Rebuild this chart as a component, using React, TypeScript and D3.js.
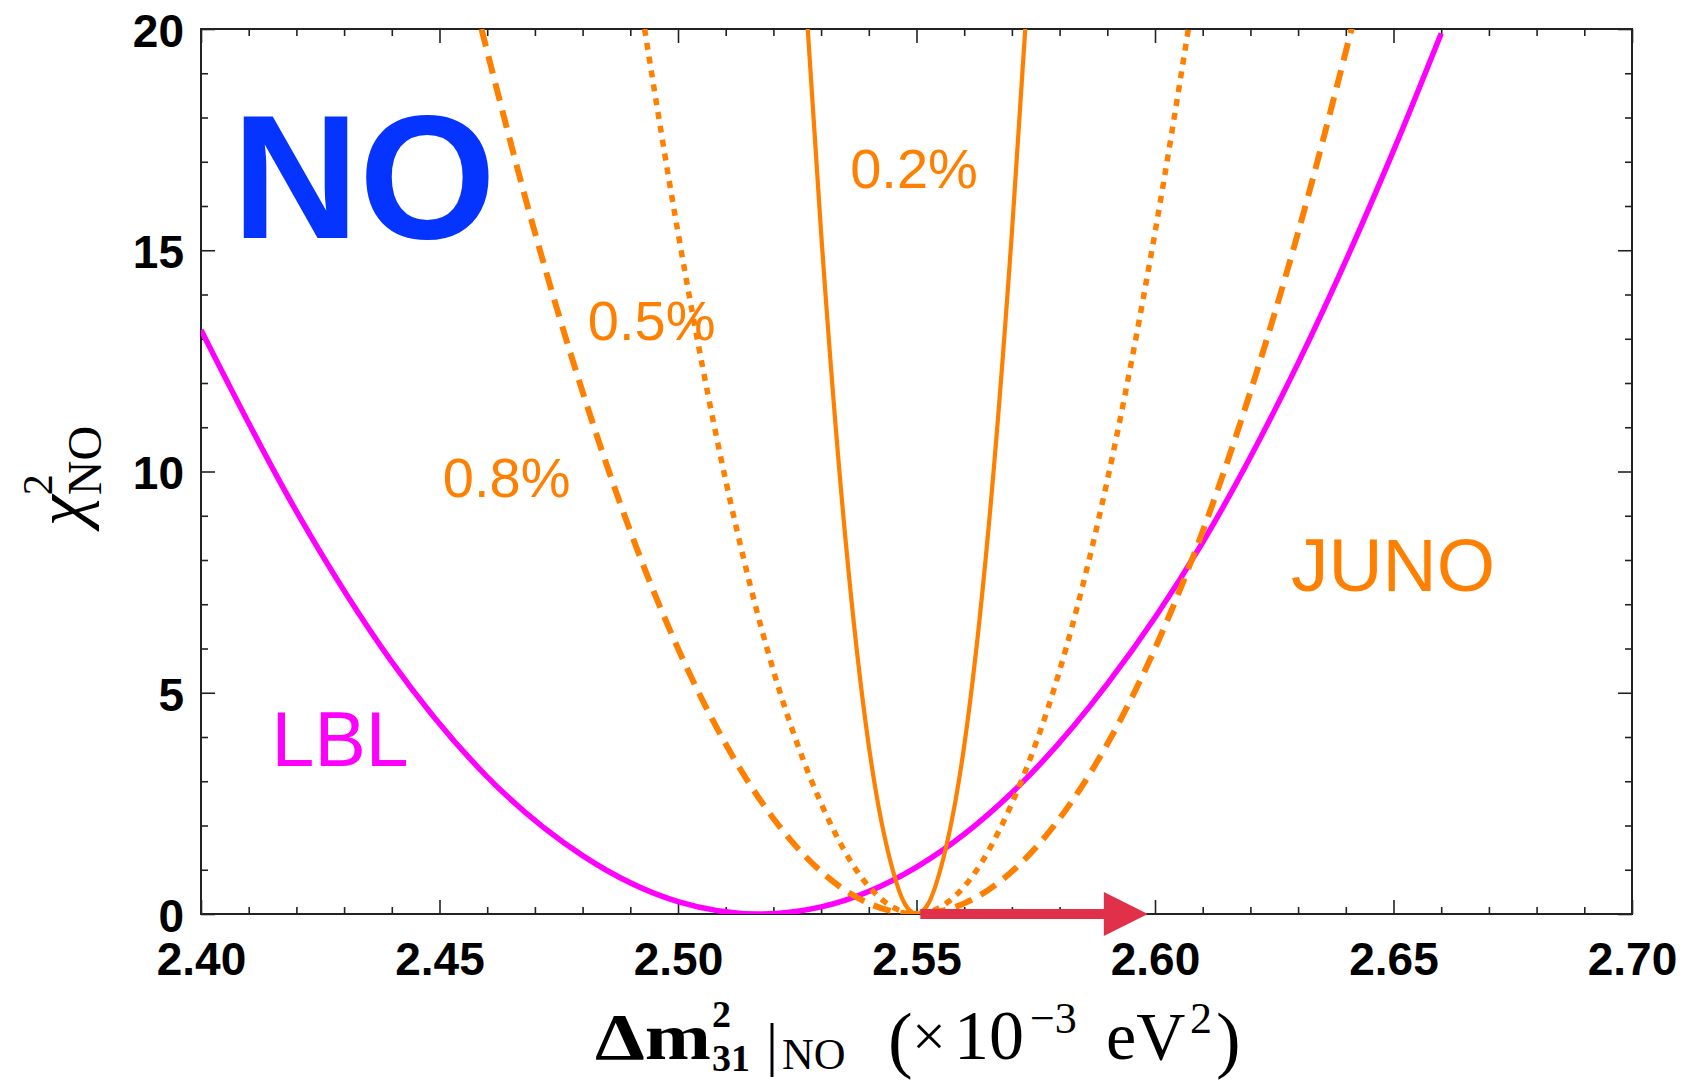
import React, { useEffect, useRef } from 'react';
import * as d3 from 'd3';

// axis ticks
const xMajorTicks = [2.40, 2.45, 2.50, 2.55, 2.60, 2.65, 2.70];
const yMajorTicks = [0, 5, 10, 15, 20];

// LBL chi^2 curve (magenta)
const lblCurve = [
    [2.400, 13.2], [2.420, 9.1], [2.440, 5.7], [2.460, 3.1], [2.480, 1.32],
    [2.500, 0.28], [2.517, 0.0], [2.530, 0.16], [2.550, 1.06], [2.570, 2.74],
    [2.590, 5.2], [2.610, 8.4], [2.630, 12.45], [2.650, 17.25], [2.660, 19.9],
];

// JUNO curves for 0.2% (solid), 0.5% (dotted), 0.8% (dashed) precision
const juno02 = [
    [2.5272, 20.0], [2.530, 15.4], [2.535, 8.6], [2.540, 3.8], [2.545, 1.0],
    [2.5475, 0.24], [2.550, 0.0], [2.5525, 0.24], [2.555, 1.0], [2.560, 3.8],
    [2.565, 8.6], [2.570, 15.4], [2.5728, 20.0],
];
const juno05 = [
    [2.493, 20.0], [2.500, 15.4], [2.510, 9.8], [2.520, 5.5], [2.530, 2.5],
    [2.540, 0.62], [2.550, 0.0], [2.560, 0.62], [2.570, 2.5], [2.580, 5.5],
    [2.590, 9.8], [2.600, 15.4], [2.607, 20.0],
];
const juno08 = [
    [2.4588, 20.0], [2.470, 15.4], [2.480, 11.8], [2.490, 8.65], [2.500, 6.0],
    [2.510, 3.84], [2.520, 2.16], [2.530, 0.96], [2.540, 0.24], [2.550, 0.0],
    [2.560, 0.24], [2.570, 0.96], [2.580, 2.16], [2.590, 3.84], [2.600, 6.0],
    [2.610, 8.65], [2.620, 11.8], [2.630, 15.4], [2.6412, 20.0],
];

// shift arrow along the x axis
const arrowFrom = 2.5508;
const arrowTo = 2.5985;

const ORANGE = '#ff8000';
const MAGENTA = '#ff00ff';

const W = 1692, H = 1082;
const plot = { left: 201, right: 1632, top: 29, bottom: 914 };

export default function App() {
    const svgRef = useRef(null);

    useEffect(() => {
        const svg = d3.select(svgRef.current);
        svg.selectAll('*').remove();

        const x = d3.scaleLinear().domain([2.40, 2.70]).range([plot.left, plot.right]);
        const y = d3.scaleLinear().domain([0, 20]).range([plot.bottom, plot.top]);

        const xMinor = d3.range(0, 31).map(i => 2.40 + i * 0.01).filter(v => !xMajorTicks.some(t => Math.abs(t - v) < 1e-6));
        const yMinor = d3.range(0, 21).filter(v => !yMajorTicks.includes(v));

        svg.append('defs').append('clipPath').attr('id', 'plotClip')
            .append('rect')
            .attr('x', plot.left).attr('y', plot.top)
            .attr('width', plot.right - plot.left).attr('height', plot.bottom - plot.top);

        const tickStyle = (g) => {
            g.select('.domain').remove();
            g.selectAll('line').attr('stroke', '#222').attr('stroke-width', 1.6);
            g.selectAll('text')
                .attr('fill', '#000')
                .style('font-family', '"Liberation Sans", Arial, sans-serif')
                .style('font-weight', 'bold')
                .style('font-size', '46px');
        };

        // bottom
        svg.append('g').attr('transform', `translate(0,${plot.bottom})`)
            .call(d3.axisBottom(x).tickValues(xMajorTicks).tickSize(-14).tickSizeOuter(0)
                .tickPadding(28).tickFormat(d3.format('.2f')))
            .call(tickStyle);
        svg.append('g').attr('transform', `translate(0,${plot.bottom})`)
            .call(d3.axisBottom(x).tickValues(xMinor).tickSize(-7).tickSizeOuter(0).tickFormat(() => ''))
            .call(tickStyle);
        // top
        svg.append('g').attr('transform', `translate(0,${plot.top})`)
            .call(d3.axisTop(x).tickValues(xMajorTicks).tickSize(-14).tickSizeOuter(0).tickFormat(() => ''))
            .call(tickStyle);
        svg.append('g').attr('transform', `translate(0,${plot.top})`)
            .call(d3.axisTop(x).tickValues(xMinor).tickSize(-7).tickSizeOuter(0).tickFormat(() => ''))
            .call(tickStyle);
        // left
        svg.append('g').attr('transform', `translate(${plot.left},0)`)
            .call(d3.axisLeft(y).tickValues(yMajorTicks).tickSize(-14).tickSizeOuter(0)
                .tickPadding(17).tickFormat(d3.format('d')))
            .call(tickStyle)
            .selectAll('text').attr('dy', '0.38em');
        svg.append('g').attr('transform', `translate(${plot.left},0)`)
            .call(d3.axisLeft(y).tickValues(yMinor).tickSize(-7).tickSizeOuter(0).tickFormat(() => ''))
            .call(tickStyle);
        // right
        svg.append('g').attr('transform', `translate(${plot.right},0)`)
            .call(d3.axisRight(y).tickValues(yMajorTicks).tickSize(-14).tickSizeOuter(0).tickFormat(() => ''))
            .call(tickStyle);
        svg.append('g').attr('transform', `translate(${plot.right},0)`)
            .call(d3.axisRight(y).tickValues(yMinor).tickSize(-7).tickSizeOuter(0).tickFormat(() => ''))
            .call(tickStyle);

        // frame
        svg.append('rect')
            .attr('x', plot.left).attr('y', plot.top)
            .attr('width', plot.right - plot.left).attr('height', plot.bottom - plot.top)
            .attr('fill', 'none').attr('stroke', '#222').attr('stroke-width', 2);

        const line = d3.line()
            .x(d => x(d[0]))
            .y(d => y(d[1]))
            .curve(d3.curveMonotoneX);

        const curves = svg.append('g').attr('clip-path', 'url(#plotClip)');

        curves.append('path').datum(lblCurve)
            .attr('d', line).attr('fill', 'none')
            .attr('stroke', MAGENTA).attr('stroke-width', 5.5);

        curves.append('path').datum(juno08)
            .attr('d', line).attr('fill', 'none')
            .attr('stroke', ORANGE).attr('stroke-width', 6)
            .attr('stroke-dasharray', '18 10');

        curves.append('path').datum(juno05)
            .attr('d', line).attr('fill', 'none')
            .attr('stroke', ORANGE).attr('stroke-width', 5.5)
            .attr('stroke-dasharray', '7 7');

        curves.append('path').datum(juno02)
            .attr('d', line).attr('fill', 'none')
            .attr('stroke', ORANGE).attr('stroke-width', 4.2);

        // arrow
        const ax0 = x(arrowFrom), ax1 = x(arrowTo), ay = y(0);
        const headLen = 44, headHalf = 22, shaftHalf = 5;
        svg.append('path')
            .attr('d', `M${ax0},${ay - shaftHalf} L${ax1 - headLen},${ay - shaftHalf} L${ax1 - headLen},${ay - headHalf}
                L${ax1},${ay} L${ax1 - headLen},${ay + headHalf} L${ax1 - headLen},${ay + shaftHalf}
                L${ax0},${ay + shaftHalf} Z`)
            .attr('fill', '#e0304a');

        // annotations
        const sans = '"Liberation Sans", Arial, sans-serif';
        const note = (txt, xv, yv, size, color, weight = 'normal') => {
            svg.append('text')
                .attr('x', x(xv)).attr('y', y(yv))
                .attr('fill', color)
                .style('font-family', sans)
                .style('font-size', `${size}px`)
                .style('font-weight', weight)
                .text(txt);
        };
        note('NO', 2.4065, 15.28, 176, '#0533ff', 'bold');
        note('0.2%', 2.5361, 16.41, 56, ORANGE);
        note('0.5%', 2.4811, 12.97, 56, ORANGE);
        note('0.8%', 2.4507, 9.42, 56, ORANGE);
        note('JUNO', 2.6285, 7.30, 75, ORANGE);
        note('LBL', 2.4148, 3.34, 77, MAGENTA);

        // x-axis title
        const serif = '"Liberation Serif", "Times New Roman", serif';
        const xt = svg.append('text').style('font-family', serif).attr('fill', '#000');
        const part = (sel, txt, px, py, size, weight = 'normal') => sel.append('tspan')
            .attr('x', px).attr('y', py).style('font-size', `${size}px`).style('font-weight', weight).text(txt);
        part(xt, 'Δm', 595, 1059, 66, 'bold').attr('textLength', 116).attr('lengthAdjust', 'spacingAndGlyphs');
        part(xt, '2', 712, 1027, 38, 'bold');
        part(xt, '31', 712, 1071, 38, 'bold');
        part(xt, '|', 766, 1064, 60);
        part(xt, 'NO', 782, 1069, 44);
        part(xt, '(', 888, 1064, 74);
        part(xt, '×', 912, 1056, 60);
        part(xt, '10', 954, 1059, 70);
        part(xt, '−3', 1030, 1033, 44);
        part(xt, 'eV', 1106, 1059, 68);
        part(xt, '2', 1190, 1033, 44);
        part(xt, ')', 1216, 1064, 74);

        // y-axis title
        const yt = svg.append('g').attr('transform', 'translate(84,476) rotate(-90)')
            .append('text').attr('text-anchor', 'middle').style('font-family', serif).attr('fill', '#000');
        yt.append('tspan').style('font-size', '70px').style('font-style', 'italic').text('χ');
        yt.append('tspan').style('font-size', '42px').attr('dy', -32).text('2');
        yt.append('tspan').style('font-size', '48px').attr('dx', -21).attr('dy', 49).text('NO');
    }, []);

    return (
        <svg ref={svgRef} width={W} height={H}
            style={{ position: 'absolute', left: 0, top: 0, background: '#fff' }} />
    );
}
